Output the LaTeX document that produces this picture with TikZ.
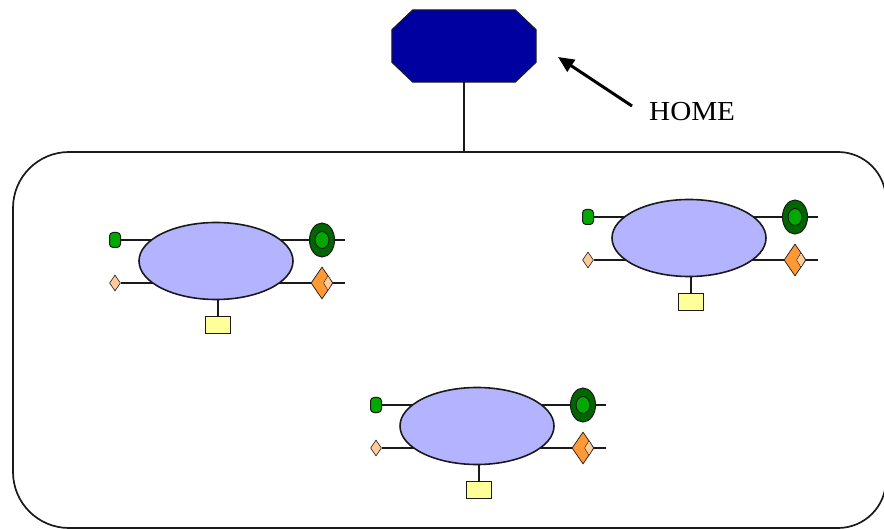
\documentclass[tikz,border=0pt]{standalone}
\usepackage{fontspec}
\setmainfont{Liberation Serif}
\usetikzlibrary{shapes.geometric,arrows.meta,calc}
\pgfdeclarelayer{background}
\pgfsetlayers{background,main}

\definecolor{homeblue}{HTML}{0000A0}
\definecolor{bodylilac}{HTML}{B3B3FF}
\definecolor{portyellow}{HTML}{FFFF99}
\definecolor{darkgreen}{HTML}{006600}
\definecolor{brightgreen}{HTML}{00A800}
\definecolor{orangefill}{HTML}{FF9933}
\definecolor{peach}{HTML}{FFCC99}
\definecolor{inkline}{HTML}{1A1A1A}

\tikzset{
  wire/.style={draw=inkline, line width=1.6pt},
  body/.style={ellipse, draw=inkline, line width=1.6pt, fill=bodylilac,
               minimum width=154pt, minimum height=77pt, inner sep=0pt},
  plug/.style={rectangle, rounded corners=3.5pt, draw=inkline, line width=1pt,
               fill=brightgreen, minimum width=11pt, minimum height=15pt, inner sep=0pt},
  pin/.style={diamond, draw=inkline, line width=0.6pt, fill=peach,
              minimum width=11pt, minimum height=16pt, inner sep=0pt},
  ringouter/.style={ellipse, draw=inkline, line width=1pt, fill=darkgreen,
                    minimum width=25pt, minimum height=34pt, inner sep=0pt},
  ringinner/.style={ellipse, draw=inkline, line width=0.9pt, fill=brightgreen,
                    minimum width=14pt, minimum height=17pt, inner sep=0pt},
  bigdiamond/.style={diamond, draw=inkline, line width=0.7pt, fill=orangefill,
                     minimum width=22pt, minimum height=32pt, inner sep=0pt},
  smalldiamond/.style={diamond, draw=inkline, line width=0.4pt, fill=peach,
                       minimum width=9pt, minimum height=15pt, inner sep=0pt},
  port/.style={rectangle, draw=inkline, line width=1.5pt, fill=portyellow,
               minimum width=25pt, minimum height=17pt, inner sep=0pt},
  frame/.style={draw=inkline, line width=1.7pt},
  pointer/.style={draw=black, line width=3pt,
                  -{Triangle[length=16pt,width=14pt]}},
}

% one component: lilac body with two wires, their end markers and a port below
\newcommand\drawunit[2]{%
  \begin{scope}[shift={#2}]
    \node[body] (#1) at (0,0) {};
    \node[plug] (#1in) at (-101,-21) {};
    \node[pin] (#1pin) at (-101,22) {};
    \node[ringouter] (#1ring) at (106,-21) {};
    \node[ringinner] (#1core) at (106,-21) {};
    \node[bigdiamond] (#1dia) at (106,22) {};
    \node[smalldiamond] (#1tip) at (112,22) {};
    \coordinate (#1endA) at (129,-21);
    \coordinate (#1endB) at (129,22);
    \node[port] (#1port) at (2,64) {};
    \begin{pgfonlayer}{background}
      \draw[wire] (#1in) -- (#1endA);
      \draw[wire] (#1pin) -- (#1endB);
      \draw[wire] (#1port.north) -- (#1port.north |- #1.center);
    \end{pgfonlayer}
  \end{scope}}

\begin{document}
\begin{tikzpicture}[x=1pt, y=-1pt]
  \useasboundingbox (0,0) rectangle (884,529);
  \clip (0,0) rectangle (884,529);

  % enclosing domain
  \draw[frame] (13,208) arc[start angle=180, end angle=270, x radius=56, y radius=56]
    -- (838,152) arc[start angle=270, end angle=360, radius=48]
    -- (886,480) arc[start angle=0, end angle=90, radius=48]
    -- (69,528) arc[start angle=90, end angle=180, radius=56] -- cycle;
  \coordinate (frametop) at (464,152);

  % home node: a chamfered box
  \node[minimum width=144pt, minimum height=72pt, inner sep=0pt] (home) at (464,46) {};
  \draw[draw=inkline, line width=1pt, fill=homeblue]
    ($(home.north west)+(21,0)$) -- ($(home.north east)+(-21,0)$)
    -- ($(home.north east)+(0,20)$) -- ($(home.south east)+(0,-20)$)
    -- ($(home.south east)+(-21,0)$) -- ($(home.south west)+(21,0)$)
    -- ($(home.south west)+(0,-20)$) -- ($(home.north west)+(0,20)$) -- cycle;
  \draw[wire] (home.south) -- (frametop);

  % label with its pointer
  \node[anchor=west, inner sep=0pt, xscale=1.06,
        font=\fontsize{27.5}{30}\selectfont] (homelabel) at (649,112) {HOME};
  \coordinate (homepoint) at (558,57);
  \draw[pointer] (632,106) -- (homepoint);

  % the three components
  \drawunit{ua}{(216,261)}
  \drawunit{ub}{(689,238)}
  \drawunit{uc}{(477,426)}
\end{tikzpicture}
\end{document}
